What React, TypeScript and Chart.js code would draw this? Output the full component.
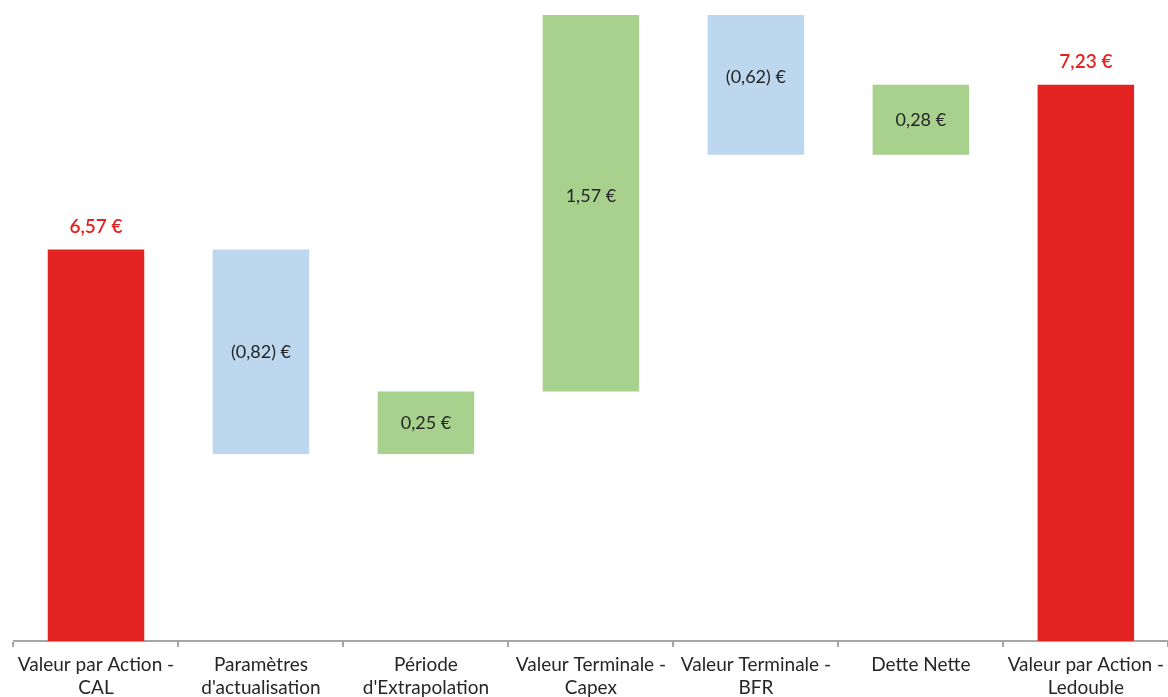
import React, { useEffect, useRef } from "react";
import { Chart, registerables } from "chart.js";

Chart.register(...registerables);

const categories: string[][] = [
  ["Valeur par Action -", "CAL"],
  ["Paramètres", "d'actualisation"],
  ["Période", "d'Extrapolation"],
  ["Valeur Terminale -", "Capex"],
  ["Valeur Terminale -", "BFR"],
  ["Dette Nette"],
  ["Valeur par Action -", "Ledouble"],
];
const startValue = 6.57;
const deltas = [-0.82, 0.25, 1.57, -0.62, 0.28];
const endValue = 7.23;
const yMin = 5;
const yMax = 7.51;

const RED = "#E32322";
const BLUE = "#BDD7EE";
const GREEN = "#A9D18E";
const FONT = "Lato, 'Noto Sans', sans-serif";

function fmt(v: number): string {
  const s = Math.abs(v).toFixed(2).replace(".", ",");
  return v < 0 ? `(${s}) €` : `${s} €`;
}

export default function App() {
  const ref = useRef<HTMLCanvasElement | null>(null);
  useEffect(() => {
    if (!ref.current) return;
    const ranges: [number, number][] = [];
    const colors: string[] = [];
    const labelsText: string[] = [];
    ranges.push([yMin, startValue]);
    colors.push(RED);
    labelsText.push(fmt(startValue));
    let cum = startValue;
    deltas.forEach((d) => {
      const next = cum + d;
      ranges.push([Math.min(cum, next), Math.max(cum, next)]);
      colors.push(d < 0 ? BLUE : GREEN);
      labelsText.push(fmt(d));
      cum = next;
    });
    ranges.push([yMin, endValue]);
    colors.push(RED);
    labelsText.push(fmt(endValue));
    const totalIdx = new Set([0, ranges.length - 1]);

    const labelPlugin = {
      id: "wfLabels",
      afterDatasetsDraw(chart: any) {
        const ctx = chart.ctx;
        const meta = chart.getDatasetMeta(0);
        const ys = chart.scales.y;
        ctx.save();
        ctx.textAlign = "center";
        ctx.textBaseline = "middle";
        meta.data.forEach((bar: any, i: number) => {
          const [lo, hi] = ranges[i];
          if (totalIdx.has(i)) {
            ctx.fillStyle = RED;
            ctx.font = `600 19px ${FONT}`;
            ctx.fillText(labelsText[i], bar.x, ys.getPixelForValue(hi) - 23);
          } else {
            ctx.fillStyle = "#262626";
            ctx.font = `400 18px ${FONT}`;
            ctx.fillText(labelsText[i], bar.x, ys.getPixelForValue((lo + hi) / 2));
          }
        });
        ctx.restore();
      },
    };

    const chart = new Chart(ref.current, {
      type: "bar",
      data: {
        labels: categories,
        datasets: [
          {
            data: ranges as any,
            backgroundColor: colors,
            borderWidth: 0,
            barPercentage: 0.585,
            categoryPercentage: 1,
          },
        ],
      },
      options: {
        animation: false,
        responsive: false,
        maintainAspectRatio: false,
        layout: { padding: { left: 13.5, right: 0, top: 15, bottom: 0 } },
        plugins: { legend: { display: false }, tooltip: { enabled: false } },
        scales: {
          x: {
            grid: {
              display: true,
              drawOnChartArea: false,
              drawTicks: true,
              tickLength: 6,
              color: "#A6A6A6",
              lineWidth: 2,
              offset: true,
            },
            border: { display: true, color: "#A6A6A6", width: 2, z: -1 },
            ticks: {
              autoSkip: false,
              maxRotation: 0,
              minRotation: 0,
              padding: 6,
              color: "#262626",
              font: { family: FONT, size: 19, lineHeight: 1.21 },
            },
            afterFit(scale: any) {
              scale.height = 56;
            },
          },
          y: {
            display: false,
            min: yMin,
            max: yMax,
          },
        },
      },
      plugins: [labelPlugin],
    });
    return () => chart.destroy();
  }, []);
  return (
    <div style={{ position: "fixed", left: 0, top: 0, width: 1168, height: 697, overflow: "hidden", background: "#fff" }}>
      <canvas ref={ref} width={1170} height={697} style={{ width: 1170, height: 697 }} />
    </div>
  );
}
